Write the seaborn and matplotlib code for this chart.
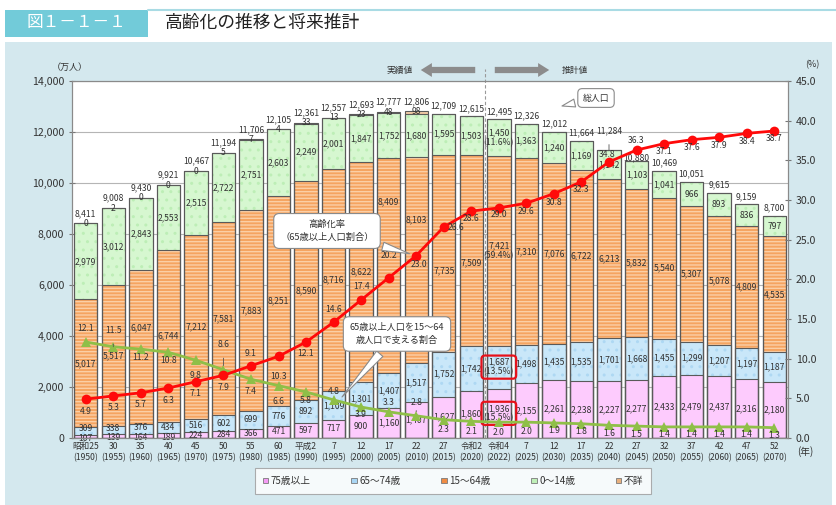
import numpy as np
import pandas as pd
import matplotlib.pyplot as plt
import seaborn as sns
from matplotlib.patches import Patch, Rectangle
from matplotlib.ticker import FuncFormatter

sns.set_style('white')
plt.rcParams['font.family'] = ['Noto Sans CJK JP', 'DejaVu Sans']

# data
era = ['昭和25', '30', '35', '40', '45', '50', '55', '60', '平成2', '7', '12', '17', '22',
       '27', '令和2', '令和4', '7', '12', '17', '22', '27', '32', '37', '42', '47', '52']
years = [1950, 1955, 1960, 1965, 1970, 1975, 1980, 1985, 1990, 1995, 2000, 2005, 2010,
         2015, 2020, 2022, 2025, 2030, 2035, 2040, 2045, 2050, 2055, 2060, 2065, 2070]
age75 = [107, 139, 164, 189, 224, 284, 366, 471, 597, 717, 900, 1160, 1407,
         1627, 1860, 1936, 2155, 2261, 2238, 2227, 2277, 2433, 2479, 2437, 2316, 2180]
age65 = [309, 338, 376, 434, 516, 602, 699, 776, 892, 1109, 1301, 1407, 1517,
         1752, 1742, 1687, 1498, 1435, 1535, 1701, 1668, 1455, 1299, 1207, 1197, 1187]
age15 = [5017, 5517, 6047, 6744, 7212, 7581, 7883, 8251, 8590, 8716, 8622, 8409, 8103,
         7735, 7509, 7421, 7310, 7076, 6722, 6213, 5832, 5540, 5307, 5078, 4809, 4535]
age0 = [2979, 3012, 2843, 2553, 2515, 2722, 2751, 2603, 2249, 2001, 1847, 1752, 1680,
        1595, 1503, 1450, 1363, 1240, 1169, 1142, 1103, 1041, 966, 893, 836, 797]
unknown = [0, 2, 0, 0, 0, 5, 7, 4, 33, 13, 23, 48, 98]   # 1950-2010 only
total = [8411, 9008, 9430, 9921, 10467, 11194, 11706, 12105, 12361, 12557, 12693, 12777, 12806,
         12709, 12615, 12495, 12326, 12012, 11664, 11284, 10880, 10469, 10051, 9615, 9159, 8700]
aging_rate = [4.9, 5.3, 5.7, 6.3, 7.1, 7.9, 9.1, 10.3, 12.1, 14.6, 17.4, 20.2, 23.0,
              26.6, 28.6, 29.0, 29.6, 30.8, 32.3, 34.8, 36.3, 37.1, 37.6, 37.9, 38.4, 38.7]
support = [12.1, 11.5, 11.2, 10.8, 9.8, 8.6, 7.4, 6.6, 5.8, 4.8, 3.9, 3.3, 2.8,
           2.3, 2.1, 2.0, 2.0, 1.9, 1.8, 1.6, 1.5, 1.4, 1.4, 1.4, 1.4, 1.3]

n = len(years)
idx = np.arange(n)
unk = np.array(unknown + [0] * (n - len(unknown)))
df = pd.DataFrame({'pos': idx})
df['c1'] = np.array(age75)
df['c2'] = df['c1'] + age65
df['c3'] = df['c2'] + age15
df['c4'] = df['c3'] + age0
df['c5'] = df['c4'] + unk

W, H = 837, 505
PX = (438 - 81) / 14000   # pixels per person-unit on the left axis
fig = plt.figure(figsize=(W / 100, H / 100), dpi=100)
fig.patch.set_facecolor('white')
fig.patches.append(Rectangle((5 / W, 0), 827 / W, 463 / H, transform=fig.transFigure,
                             fc='#d4e8ee', ec='none', zorder=-10))
fig.patches.append(Rectangle((5 / W, 1 - 37 / H), 143 / W, 27 / H, transform=fig.transFigure,
                             fc='#72cbd9', ec='none', zorder=-9))
fig.add_artist(plt.Line2D([148 / W, 1], [1 - 10 / H, 1 - 10 / H], color='#a9dbe4', lw=1.5))
fig.text(76 / W, 1 - 23 / H, '図１－１－１', color='white', fontsize=12, ha='center', va='center')
fig.text(165 / W, 1 - 23 / H, '高齢化の推移と将来推計', color='#222222', fontsize=12.8, ha='left', va='center')

ax = fig.add_axes([72 / W, 1 - 438 / H, (788 - 72) / W, (438 - 81) / H])
ax.set_facecolor('white')

# stacked bars: cumulative layers, top first
layers = [('c5', '#f2c79f', '#f8dcc2', '-----'),
          ('c4', '#d6f7d0', '#bdeeb6', '..'),
          ('c3', '#f5a461', '#fbcfa6', '-----'),
          ('c2', '#c9e7f9', '#aed8f3', '..'),
          ('c1', '#fdcbfd', '#fdcbfd', None)]
for col, fc, hc, hatch in layers:
    sns.barplot(data=df, x='pos', y=col, color=fc, saturation=1, width=0.85, errorbar=None,
                ax=ax, hatch=hatch, edgecolor=hc, linewidth=0, zorder=2)
for col, fc, hc, hatch in layers:
    sns.barplot(data=df, x='pos', y=col, color='#5a5a5a', fill=False, width=0.85, errorbar=None,
                ax=ax, linewidth=0.8, zorder=3)

ax.set_xlim(-0.5, n - 0.5)
ax.set_ylim(0, 14000)
ax.set_yticks(range(0, 14001, 2000))
ax.yaxis.set_major_formatter(FuncFormatter(lambda v, p: f'{int(v):,}'))
ax.set_xticks(idx)
ax.set_xticklabels([f'{e}\n({y})' for e, y in zip(era, years)], fontsize=6.2, color='#333333',
                   linespacing=1.3)
ax.set_xticks(np.arange(-0.5, n, 1), minor=True)
ax.tick_params(axis='x', which='major', length=0, pad=3)
ax.tick_params(axis='x', which='minor', length=3, color='#777777', direction='inout')
ax.tick_params(axis='y', labelsize=7.6, labelcolor='#333333', length=4, color='#777777',
               direction='inout', left=True)
ax.set_xlabel('')
ax.set_ylabel('')
ax.grid(axis='y', color='#b5b5b5', lw=0.8, zorder=0)
ax.set_axisbelow(True)
for s in ax.spines.values():
    s.set_color('#8a8a8a')
    s.set_linewidth(0.8)


def lab(axis, x, y, s, dx=0, dy=0, size=6.2, **kw):
    axis.annotate(s, (x, y), xytext=(dx, dy), textcoords='offset pixels', ha='center',
                  va='center', fontsize=size, color='#333333', zorder=6, **kw)


orange_y = {2: 4313, 11: 9255, 12: 8549, 13: 6550, 14: 6860}
for i in idx:
    if i == 15:
        continue
    y75 = age75[i] / 2
    y65 = df.c1[i] + age65[i] / 2
    lift = max(0.0, 9.5 - (y65 - y75) * PX)   # keep small labels apart
    lab(ax, i, y75, f'{age75[i]:,}', dy=-min(lift, 1.5))
    lab(ax, i, y65, f'{age65[i]:,}', dy=lift - min(lift, 1.5))
    lab(ax, i, orange_y.get(i, df.c2[i] + age15[i] / 2), f'{age15[i]:,}')
    lab(ax, i, df.c3[i] + age0[i] / 2, f'{age0[i]:,}')
# 2022 with shares
j = 15
red_box = dict(boxstyle='round,pad=0.25,rounding_size=0.4', fc='none', ec='#e8101a', lw=1.6)
lab(ax, j, age75[j] / 2, '1,936\n(15.5%)', bbox=red_box, linespacing=1.1)
lab(ax, j, df.c1[j] + age65[j] / 2, '1,687\n(13.5%)', bbox=red_box, linespacing=1.1)
lab(ax, j, df.c2[j] + age15[j] / 2, '7,421\n(59.4%)', linespacing=1.1)
lab(ax, j, df.c3[j] + age0[j] / 2, '1,450\n(11.6%)', linespacing=1.1)

# unknown + totals
for i in range(len(unknown)):
    lab(ax, i, df.c5[i], f'{unknown[i]}')
for i in idx:
    dy = 10 if i < len(unknown) else 8
    if i == 19:
        ax.annotate(f'{total[i]:,}', (i, total[i]), xytext=(0, 19), textcoords='offset pixels',
                    ha='center', va='center', fontsize=6.2, color='#333333',
                    arrowprops=dict(arrowstyle='-', color='#555555', lw=0.6, shrinkA=4, shrinkB=0))
        continue
    if i == 20:
        dy = 3
    lab(ax, i, total[i], f'{total[i]:,}', dy=dy)

# lines on right axis
ax2 = ax.twinx()
sns.lineplot(x=idx, y=support, ax=ax2, color='#8fbf48', lw=2, marker='^', markersize=7,
             markeredgewidth=0, zorder=4)
sns.lineplot(x=idx, y=aging_rate, ax=ax2, color='#ff0a0a', lw=2, marker='o', markersize=7,
             markeredgewidth=0, zorder=5)
ax2.set_ylim(0, 45)
ax2.set_yticks(np.arange(0, 46, 5))
ax2.yaxis.set_major_formatter(FuncFormatter(lambda v, p: f'{v:.1f}'))
ax2.tick_params(axis='y', labelsize=7.6, labelcolor='#333333', length=4, color='#777777',
                direction='inout', right=True)
ax2.set_ylabel('')
ax2.grid(False)
for s in ax2.spines.values():
    s.set_color('#8a8a8a')
    s.set_linewidth(0.8)
ax.set_xlim(-0.5, n - 0.5)

red_dy = [-12, -12, -12, -12, -12, -12, 12, -20, -11, 13, 13, 22, -9,
          -1, -7, -7, -8, -9, -8, 7, 10, -8, -8, -8, -8, -8]
red_dx = {12: 3, 13: 12, 19: -2}
for i in idx:
    lab(ax2, i, aging_rate[i], f'{aging_rate[i]:.1f}', dx=red_dx.get(i, 0), dy=red_dy[i])

green_dy = [14, 16, -8, -8, -15, 25, -12, -16, -9, 8, -7, 9, 13,
            -10, -10, -10, -9, -8, -8, -8, -8, -8, -8, -8, -8, -8]
leaders = {1, 5, 12}
for i in idx:
    if i in leaders:
        ax2.annotate(f'{support[i]:.1f}', (i, support[i]), xytext=(0, green_dy[i]),
                     textcoords='offset pixels', ha='center', va='center', fontsize=6.2,
                     color='#333333', zorder=6,
                     arrowprops=dict(arrowstyle='-', color='#555555', lw=0.6, shrinkA=4, shrinkB=3))
    else:
        lab(ax2, i, support[i], f'{support[i]:.1f}', dy=green_dy[i])

# projections divider and arrows
ax.plot([14.5, 14.5], [0, 1.035], transform=ax.get_xaxis_transform(), clip_on=False,
        color='#9a9a9a', lw=0.8, ls=(0, (3, 2)), zorder=5)
arrow_kw = dict(arrowstyle='simple,head_width=1.0,head_length=0.8,tail_width=0.45',
                fc='#8c8c8c', ec='none')
fig.text(400 / W, 1 - 70 / H, '実績値', fontsize=6.3, ha='center', va='center', color='#333333')
fig.text(575 / W, 1 - 70 / H, '推計値', fontsize=6.3, ha='center', va='center', color='#333333')
ax2.annotate('', xy=(418, H - 70), xytext=(478, H - 70), xycoords='figure pixels',
             textcoords='figure pixels', arrowprops=arrow_kw)
ax2.annotate('', xy=(552, H - 70), xytext=(492, H - 70), xycoords='figure pixels',
             textcoords='figure pixels', arrowprops=arrow_kw)

# callouts
bubble = dict(boxstyle='round,pad=0.7,rounding_size=0.6', fc='white', ec='#8a8a8a', lw=0.8)
tail = dict(arrowstyle='wedge,tail_width=0.9', fc='white', ec='#8a8a8a', lw=0.8, shrinkB=5)
ax2.annotate('高齢化率\n（65歳以上人口割合）', xy=(12, aging_rate[12]), xytext=(327, H - 231),
             textcoords='figure pixels', ha='center', va='center', fontsize=6.7,
             color='#333333', linespacing=1.5, bbox=bubble, arrowprops=tail, zorder=8)
ax2.annotate('65歳以上人口を15～64\n歳人口で支える割合', xy=(342, H - 397), xytext=(397, H - 334),
             xycoords='figure pixels', textcoords='figure pixels', ha='center', va='center',
             fontsize=6.6, color='#333333', linespacing=1.5, bbox=bubble,
             arrowprops=dict(tail, shrinkB=0), zorder=8)
ax2.annotate('総人口', xy=(562, H - 106), xytext=(596, H - 98), xycoords='figure pixels',
             textcoords='figure pixels', ha='center', va='center', fontsize=6.4,
             color='#333333', bbox=dict(boxstyle='round,pad=0.55,rounding_size=0.5', fc='white',
                                        ec='#8a8a8a', lw=0.8),
             arrowprops=dict(tail, shrinkB=0), zorder=8)

# unit labels
fig.text(70 / W, 1 - 67 / H, '（万人）', fontsize=6.5, ha='center', va='center', color='#333333')
fig.text(812 / W, 1 - 65 / H, '(%)', fontsize=6.5, ha='center', va='center', color='#333333')
fig.text(805 / W, 1 - 452 / H, '(年)', fontsize=7, ha='center', va='center', color='#333333')

# legend
handles = [Patch(fc='#f59af5', ec='#7a7a7a', lw=0.6, label='75歳以上'),
           Patch(fc='#a9d6f4', ec='#7a7a7a', lw=0.6, label='65～74歳'),
           Patch(fc='#f08c44', ec='#7a7a7a', lw=0.6, label='15～64歳'),
           Patch(fc='#bff0b8', ec='#7a7a7a', lw=0.6, label='0～14歳'),
           Patch(fc='#e8b07e', ec='#7a7a7a', lw=0.6, label='不詳')]
leg = fig.legend(handles=handles, loc='center', bbox_to_anchor=(453 / W, 1 - 481 / H), ncol=5,
                 fontsize=7, frameon=True, fancybox=False, handlelength=0.55, handleheight=0.55,
                 handletextpad=0.25, columnspacing=4.2, borderpad=0.8)
leg.get_frame().set_edgecolor('#9a9a9a')
leg.get_frame().set_linewidth(0.8)
for t in leg.get_texts():
    t.set_color('#333333')

fig.savefig('out.png', dpi=100)
